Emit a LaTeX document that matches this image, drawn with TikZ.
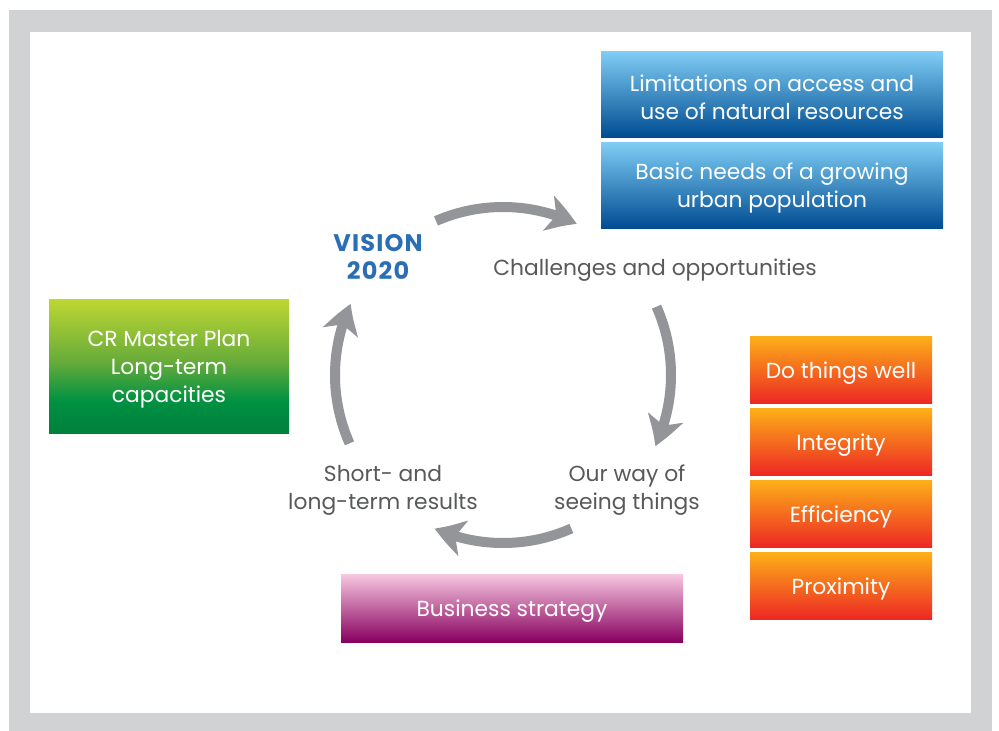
\documentclass[tikz,border=0pt]{standalone}
\usepackage{fontspec}
\setmainfont{Poppins}
\usetikzlibrary{arrows.meta,bending,calc}
\definecolor{framegray}{RGB}{209,210,212}
\definecolor{txtgray}{RGB}{88,89,91}
\definecolor{arrgray}{RGB}{147,149,152}
\definecolor{visblue}{RGB}{42,110,180}
\definecolor{bTop}{RGB}{128,206,245}
\definecolor{bMid}{RGB}{58,128,195}
\definecolor{bBot}{RGB}{0,76,146}
\definecolor{oTop}{RGB}{252,176,24}
\definecolor{oMid}{RGB}{245,120,36}
\definecolor{oBot}{RGB}{237,40,36}
\definecolor{gTop}{RGB}{190,215,50}
\definecolor{gMid}{RGB}{105,172,58}
\definecolor{gMid2}{RGB}{0,145,66}
\definecolor{gBot}{RGB}{0,128,60}
\definecolor{pTop}{RGB}{248,200,225}
\definecolor{pMid}{RGB}{185,100,150}
\definecolor{pBot}{RGB}{135,0,95}
\pgfdeclareverticalshading{greenshade}{100bp}{color(0bp)=(gBot); color(25bp)=(gBot); color(37bp)=(gMid2); color(52bp)=(gMid); color(75bp)=(gTop); color(100bp)=(gTop)}
\tikzset{
  boxbase/.style={inner sep=0pt},
  bluebox/.style={boxbase, top color=bTop, middle color=bMid, bottom color=bBot, minimum width=342pt, minimum height=86pt},
  orangebox/.style={boxbase, top color=oTop, middle color=oMid, bottom color=oBot, minimum width=182pt, minimum height=67pt},
  greenbox/.style={boxbase, shading=greenshade, minimum width=240pt, minimum height=134pt},
  purplebox/.style={boxbase, top color=pTop, middle color=pMid, bottom color=pBot, minimum width=342pt, minimum height=68pt},
  boxtext/.style={inner sep=0pt, text=white, align=center, font=\fontsize{21.8}{28}\selectfont},
  label/.style={inner sep=0pt, text=txtgray, align=center, font=\fontsize{21.8}{28}\selectfont},
  cyc/.style={draw=arrgray, line width=10pt, -{Stealth[length=30pt,width=36pt,inset=8pt,bend]}}
}
\begin{document}
\begin{tikzpicture}[x=1pt,y=-1pt]
\useasboundingbox (0,0) rectangle (999,731);
\fill[framegray] (9,10) rectangle (992,731);
\fill[white] (30,32) rectangle (971,713);

\node[bluebox] (lim) at (772,94) {};
\node[boxtext] (limt) at ($(lim)+(0,3)$) {Limitations on access and\\use of natural resources};
\node[bluebox] (needs) at (772,185) {};
\node[boxtext] (needst) at ($(needs)+(0,3)$) {Basic needs of a growing\\urban population};

\node[orangebox] (well) at (841,369.5) {};
\node[boxtext] (wellt) at ($(well)+(0,3.5)$) {Do things well};
\node[orangebox] (integ) at (841,441.5) {};
\node[boxtext] (integt) at ($(integ)+(0,3.5)$) {Integrity};
\node[orangebox] (eff) at (841,513.5) {};
\node[boxtext] (efft) at ($(eff)+(0,3.5)$) {Efficiency};
\node[orangebox] (prox) at (841,585.5) {};
\node[boxtext] (proxt) at ($(prox)+(0,3.5)$) {Proximity};

\node[greenbox] (plan) at (169,366) {};
\node[boxtext] (plant) at ($(plan)+(0,3)$) {CR Master Plan\\Long-term\\capacities};
\node[purplebox] (biz) at (512,608) {};
\node[boxtext] (bizt) at ($(biz)+(0,3)$) {Business strategy};

\node[inner sep=0pt, text=visblue, align=center, font=\fontsize{24}{28}\selectfont\bfseries\addfontfeatures{LetterSpace=5}] (vision) at (378,257) {VISION\\2020};
\node[label] (chal) at (655,270) {Challenges and opportunities};
\node[label] (way) at (627,490) {Our way of\\seeing things};
\node[label] (short) at (383,490) {Short- and\\long-term results};

\coordinate (c) at (503,375);
\coordinate (a1) at ($(c)+(113.5:168pt)$);
\coordinate (a2) at ($(c)+(24:168pt)$);
\coordinate (a3) at ($(c)+(-66:168pt)$);
\coordinate (a4) at ($(c)+(204:168pt)$);
\draw[cyc] (a1) arc[start angle=113.5, end angle=64, radius=168pt];
\draw[cyc] (a2) arc[start angle=24, end angle=-25, radius=168pt];
\draw[cyc] (a3) arc[start angle=-66, end angle=-114, radius=168pt];
\draw[cyc] (a4) arc[start angle=204, end angle=155, radius=168pt];
\end{tikzpicture}
\end{document}
